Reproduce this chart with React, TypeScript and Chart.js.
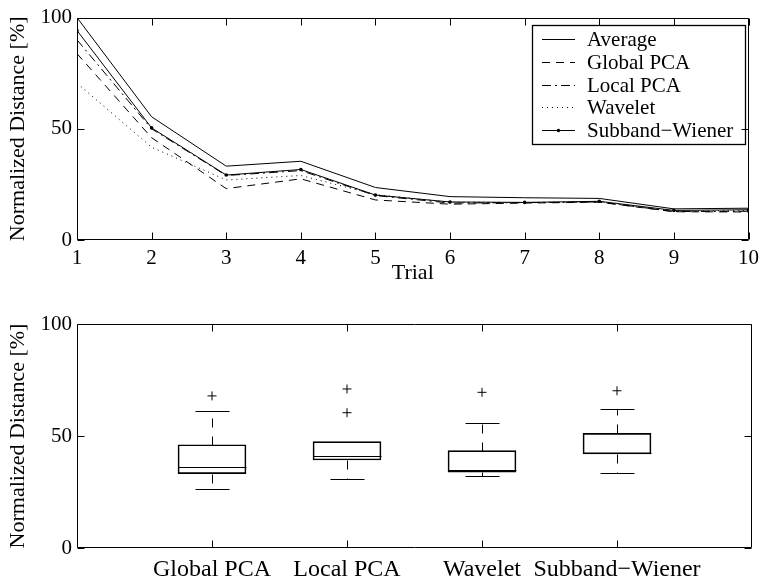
import React, { useEffect, useRef } from "react";
import { Chart, registerables } from "chart.js";
Chart.register(...registerables);

const FONT = "'Liberation Serif', 'Times New Roman', serif";

// ---- top chart data ----
const trials = [1, 2, 3, 4, 5, 6, 7, 8, 9, 10];
const averageValues = [100, 55.4, 33.2, 35.4, 23.6, 19.5, 19.0, 18.7, 14.0, 14.3];
const globalPcaValues = [83.8, 46.0, 23.1, 27.5, 18.0, 16.1, 16.6, 17.0, 12.7, 12.6];
const localPcaValues = [90.0, 50.0, 29.0, 31.2, 20.0, 16.6, 16.8, 17.1, 12.8, 12.9];
const waveletValues = [70.5, 41.7, 27.0, 29.0, 20.4, 17.0, 16.9, 17.2, 13.0, 13.2];
const subbandValues = [94.2, 50.4, 29.2, 31.7, 20.2, 17.1, 16.9, 17.4, 13.3, 13.6];
const yTickValues = [0, 50, 100];

// ---- box plot data ----
const boxCategories = ["Global PCA", "Local PCA", "Wavelet", "Subband\u2212Wiener"];
const boxLowerWhisker = [26.3, 30.9, 32.3, 33.6];
const boxQ1 = [33.2, 39.3, 33.8, 42.0];
const boxMedian = [36.0, 40.9, 34.8, 42.4];
const boxQ3 = [46.1, 47.5, 43.5, 51.2];
const boxUpperWhisker = [61.2, 47.5, 55.7, 61.9];
const outlierCategory = [1, 2, 2, 3, 4];
const outlierValues = [67.9, 60.4, 71.0, 69.5, 70.2];

const TICK_LEN = 7;

const framePlugin = {
  id: "frame",
  afterDraw(chart: any) {
    const { ctx, chartArea: a, scales } = chart;
    ctx.save();
    ctx.strokeStyle = "#000";
    ctx.lineWidth = 1;
    ctx.setLineDash([]);
    const l = Math.round(a.left) + 0.5;
    const r = Math.round(a.right) - 0.5;
    const t = Math.round(a.top) + 0.5;
    const b = Math.round(a.bottom) - 0.5;
    ctx.beginPath();
    ctx.rect(l, t, r - l, b - t);
    const line = (x1: number, y1: number, x2: number, y2: number) => {
      ctx.moveTo(x1, y1);
      ctx.lineTo(x2, y2);
    };
    scales.x.ticks.forEach((tk: any) => {
      const x = Math.round(scales.x.getPixelForValue(tk.value)) + 0.5;
      line(x, b, x, b - TICK_LEN);
      line(x, t, x, t + TICK_LEN);
    });
    scales.y.ticks.forEach((tk: any) => {
      const y = Math.round(scales.y.getPixelForValue(tk.value)) + 0.5;
      line(l, y, l + TICK_LEN, y);
      line(r, y, r - TICK_LEN, y);
    });
    ctx.stroke();
    ctx.restore();
  },
};

const legendPlugin = {
  id: "innerLegend",
  afterDatasetsDraw(chart: any) {
    const { ctx } = chart;
    const x0 = 532.5, y0 = 25.5, w = 213, h = 119;
    ctx.save();
    ctx.fillStyle = "#fff";
    ctx.fillRect(x0, y0, w, h);
    ctx.strokeStyle = "#000";
    ctx.lineWidth = 1.3;
    ctx.setLineDash([]);
    ctx.strokeRect(x0, y0, w, h);
    ctx.font = `21px ${FONT}`;
    ctx.textBaseline = "middle";
    ctx.textAlign = "left";
    chart.data.datasets.forEach((ds: any, i: number) => {
      const y = Math.round(39 + i * 22.8) + 0.5;
      ctx.beginPath();
      ctx.setLineDash(ds.borderDash || []);
      ctx.lineWidth = 1;
      ctx.strokeStyle = "#000";
      ctx.moveTo(542, y);
      ctx.lineTo(575, y);
      ctx.stroke();
      ctx.setLineDash([]);
      if (ds.pointRadius > 0) {
        ctx.beginPath();
        ctx.fillStyle = "#000";
        ctx.arc(558.5, y, ds.pointRadius, 0, Math.PI * 2);
        ctx.fill();
      }
      ctx.fillStyle = "#000";
      ctx.fillText(ds.label, 587, y + 1);
    });
    ctx.restore();
  },
};

const boxPlugin = {
  id: "boxParts",
  afterDatasetsDraw(chart: any) {
    const { ctx, scales } = chart;
    const xs = scales.x, ys = scales.y;
    ctx.save();
    ctx.strokeStyle = "#000";
    ctx.lineWidth = 1;
    boxCategories.forEach((_, i) => {
      const cx = Math.round(xs.getPixelForValue(i + 1)) + 0.5;
      const py = (v: number) => Math.round(ys.getPixelForValue(v)) + 0.5;
      // median
      ctx.setLineDash([]);
      ctx.beginPath();
      ctx.moveTo(cx - 34, py(boxMedian[i]));
      ctx.lineTo(cx + 34, py(boxMedian[i]));
      // caps
      ctx.moveTo(cx - 17, py(boxUpperWhisker[i]));
      ctx.lineTo(cx + 17, py(boxUpperWhisker[i]));
      ctx.moveTo(cx - 17, py(boxLowerWhisker[i]));
      ctx.lineTo(cx + 17, py(boxLowerWhisker[i]));
      ctx.stroke();
      // dashed whiskers
      ctx.setLineDash([9, 9]);
      ctx.beginPath();
      ctx.moveTo(cx, py(boxQ3[i]));
      ctx.lineTo(cx, py(boxUpperWhisker[i]));
      ctx.stroke();
      ctx.beginPath();
      ctx.moveTo(cx, py(boxQ1[i]));
      ctx.lineTo(cx, py(boxLowerWhisker[i]));
      ctx.stroke();
    });
    ctx.restore();
  },
};

function lineDs(label: string, values: number[], dash: number[], radius = 0) {
  return {
    label,
    data: trials.map((t, i) => ({ x: t, y: values[i] })),
    borderColor: "#000",
    backgroundColor: "#000",
    borderWidth: 1,
    borderDash: dash,
    pointRadius: radius,
    pointBorderWidth: 0,
    pointBackgroundColor: "#000",
    tension: 0,
    fill: false,
  };
}

const yAxis = (titleOn: boolean) => ({
  type: "linear",
  min: 0,
  max: 100,
  afterBuildTicks: (s: any) => {
    s.ticks = yTickValues.map((v) => ({ value: v }));
  },
  afterFit: (s: any) => {
    s.width = 77;
  },
  grid: { display: false, drawTicks: false },
  border: { display: false },
  ticks: { font: { family: FONT, size: 21 }, color: "#000", padding: 5 },
  title: {
    display: titleOn,
    text: "Normalized Distance [%]",
    font: { family: FONT, size: 22 },
    color: "#000",
    padding: { top: 5, bottom: 2 },
  },
});

export default function App() {
  const topRef = useRef<HTMLCanvasElement>(null);
  const botRef = useRef<HTMLCanvasElement>(null);

  useEffect(() => {
    const top = new Chart(topRef.current as HTMLCanvasElement, {
      type: "line",
      data: {
        datasets: [
          lineDs("Average", averageValues, []),
          lineDs("Global PCA", globalPcaValues, [8, 6]),
          lineDs("Local PCA", localPcaValues, [9, 4, 2, 4]),
          lineDs("Wavelet", waveletValues, [1, 4]),
          lineDs("Subband\u2212Wiener", subbandValues, [], 1.8),
        ],
      } as any,
      options: {
        animation: false,
        responsive: false,
        layout: { padding: { top: 16, right: 13, left: 0, bottom: 0 } },
        plugins: { legend: { display: false }, tooltip: { enabled: false } },
        scales: {
          x: {
            type: "linear",
            min: 1,
            max: 10,
            afterBuildTicks: (s: any) => {
              s.ticks = trials.map((v) => ({ value: v }));
            },
            afterFit: (s: any) => {
              s.height = 50;
            },
            grid: { display: false, drawTicks: false },
            border: { display: false },
            ticks: { font: { family: FONT, size: 21 }, color: "#000", padding: 6, maxRotation: 0, autoSkip: false },
            title: {
              display: true,
              text: "Trial",
              font: { family: FONT, size: 22 },
              color: "#000",
              padding: { top: 0, bottom: 4 },
            },
          },
          y: yAxis(true),
        },
      } as any,
      plugins: [legendPlugin, framePlugin],
    });

    const bot = new Chart(botRef.current as HTMLCanvasElement, {
      type: "bar",
      data: {
        datasets: [
          {
            type: "bar",
            label: "box",
            data: boxCategories.map((_, i) => ({ x: i + 1, y: [boxQ1[i], boxQ3[i]] })),
            backgroundColor: "rgba(0,0,0,0)",
            borderColor: "#000",
            borderWidth: 1,
            borderSkipped: false,
            barThickness: 68,
          },
          {
            type: "scatter",
            label: "outliers",
            data: outlierCategory.map((c, i) => ({ x: c, y: outlierValues[i] })),
            pointStyle: "cross",
            pointRadius: 4.5,
            borderColor: "#000",
            borderWidth: 1,
            showLine: false,
          },
        ],
      } as any,
      options: {
        animation: false,
        responsive: false,
        layout: { padding: { top: 34, right: 13, left: 0, bottom: 0 } },
        plugins: { legend: { display: false }, tooltip: { enabled: false } },
        scales: {
          x: {
            type: "linear",
            min: 0,
            max: 5,
            offset: false,
            afterBuildTicks: (s: any) => {
              s.ticks = boxCategories.map((_, i) => ({ value: i + 1 }));
            },
            afterFit: (s: any) => {
              s.height = 32;
            },
            grid: { display: false, drawTicks: false },
            border: { display: false },
            ticks: {
              font: { family: FONT, size: 24 },
              color: "#000",
              padding: 7,
              maxRotation: 0,
              autoSkip: false,
              callback: (v: any) => boxCategories[Number(v) - 1] ?? "",
            },
          },
          y: yAxis(true),
        },
      } as any,
      plugins: [boxPlugin, framePlugin],
    });

    return () => {
      top.destroy();
      bot.destroy();
    };
  }, []);

  return (
    <div style={{ position: "absolute", left: 0, top: 0, width: 765, height: 580, background: "#fff" }}>
      <canvas ref={topRef} width={765} height={290} style={{ display: "block", width: 765, height: 290 }} />
      <canvas ref={botRef} width={765} height={290} style={{ display: "block", width: 765, height: 290 }} />
    </div>
  );
}
